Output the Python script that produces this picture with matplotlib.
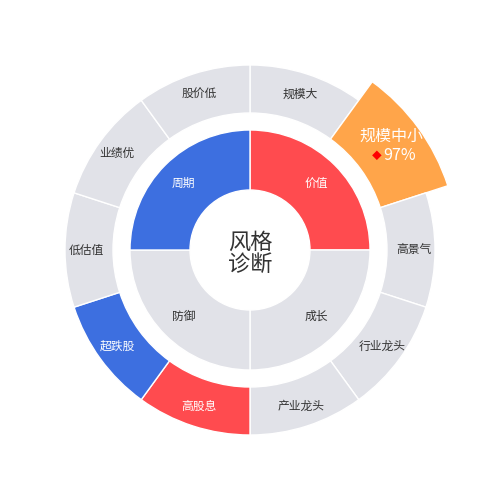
import numpy as np
import matplotlib.pyplot as plt

plt.rcParams['font.family'] = ['Noto Sans CJK SC', 'DejaVu Sans']

# data
inner_labels = ["价值", "成长", "防御", "周期"]
inner_colors = ["#FF4B4F", "#E1E2E8", "#E1E2E8", "#3D6FE0"]
outer_labels = ["规模大", "规模中小", "高景气", "行业龙头", "产业龙头",
                "高股息", "超跌股", "低估值", "业绩优", "股价低"]
outer_colors = ["#E1E2E8", "#FFA54A", "#E1E2E8", "#E1E2E8", "#E1E2E8",
                "#FF4B4F", "#3D6FE0", "#E1E2E8", "#E1E2E8", "#E1E2E8"]
highlight = 1
highlight_value = "97%"
center_text = "风格\n诊断"

fig = plt.figure(figsize=(5, 5), dpi=100)
ax = fig.add_axes([0, 0, 1, 1])

# outer ring
r_out, w_out = 185, 48
wedges, _ = ax.pie([1] * len(outer_labels), radius=r_out, startangle=90,
                   counterclock=False, colors=outer_colors,
                   wedgeprops=dict(width=w_out, edgecolor="white", linewidth=1))
# pop the highlighted slice outward
wedges[highlight].set_radius(208)
wedges[highlight].set_width(208 - (r_out - w_out))

for i, (w, lab) in enumerate(zip(wedges, outer_labels)):
    ang = np.deg2rad((w.theta1 + w.theta2) / 2)
    txtc = "#333333" if outer_colors[i] == "#E1E2E8" else "white"
    if i == highlight:
        r = 172
        x, y = r * np.cos(ang), r * np.sin(ang)
        ax.text(x + 2, y + 13, lab, ha="center", va="center", fontsize=11.5, color="white")
        ax.text(x - 12, y - 7, "◆", ha="center", va="center", fontsize=7, color="#FF0000")
        ax.text(x + 10, y - 7, highlight_value, ha="center", va="center",
                fontsize=11.5, color="white")
    else:
        r = 164
        ax.text(r * np.cos(ang), r * np.sin(ang), lab, ha="center", va="center",
                fontsize=8.5, color=txtc)

# inner ring
r_in, w_in = 120, 60
wedges2, _ = ax.pie([1] * len(inner_labels), radius=r_in, startangle=90,
                    counterclock=False, colors=inner_colors,
                    wedgeprops=dict(width=w_in, edgecolor="white", linewidth=1))
for i, (w, lab) in enumerate(zip(wedges2, inner_labels)):
    ang = np.deg2rad((w.theta1 + w.theta2) / 2)
    r = 94
    txtc = "#333333" if inner_colors[i] == "#E1E2E8" else "white"
    ax.text(r * np.cos(ang), r * np.sin(ang), lab, ha="center", va="center",
            fontsize=8.5, color=txtc)

ax.text(0, -3, center_text, ha="center", va="center", fontsize=16,
        color="#333333", linespacing=0.95)

ax.set_xlim(-250, 250)
ax.set_ylim(-250, 250)
ax.set_aspect("equal")
ax.axis("off")

fig.savefig("out.png", dpi=100, facecolor="white")
